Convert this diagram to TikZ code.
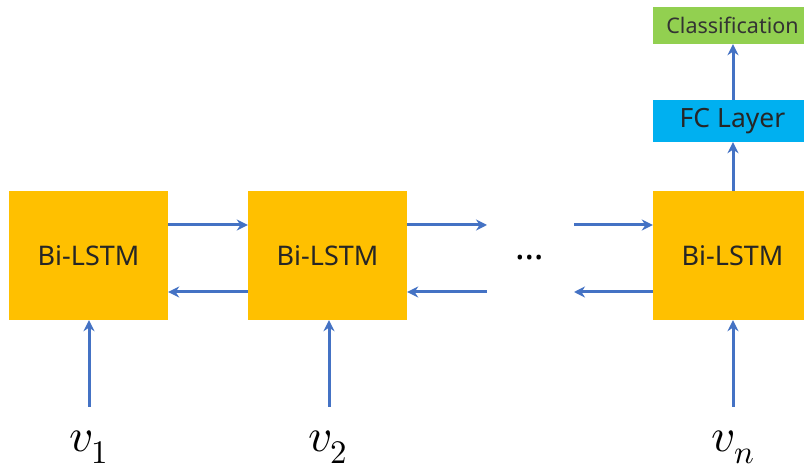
\documentclass[tikz,border=0pt]{standalone}
\usepackage{fontspec}
\setmainfont{Noto Sans}
\usepackage{unicode-math}
\setmathfont{Latin Modern Math}
\usetikzlibrary{arrows.meta}
\definecolor{lstmgold}{HTML}{FFC000}
\definecolor{fcblue}{HTML}{00B0F0}
\definecolor{clsgreen}{HTML}{92D050}
\definecolor{arrowblue}{HTML}{4472C4}
\tikzset{
  cell/.style={fill=lstmgold, draw=none, minimum width=159pt, minimum height=129pt,
    inner sep=0pt, font=\fontsize{27}{32}\selectfont, text=black!85},
  fcbox/.style={fill=fcblue, draw=none, minimum width=159pt, minimum height=42pt,
    inner sep=0pt, font=\fontsize{26.5}{30}\selectfont, text=black!85},
  clsbox/.style={fill=clsgreen, draw=none, minimum width=159pt, minimum height=37pt,
    inner sep=0pt, font=\fontsize{21.5}{26}\selectfont, text=black!80},
  flow/.style={draw=arrowblue, line width=3pt, -{Stealth[length=11pt,width=11pt]}},
  vlabel/.style={font=\fontsize{47}{54}\selectfont, inner sep=0pt}
}
\begin{document}
\begin{tikzpicture}[x=1pt,y=-1pt]
  \clip (0,0) rectangle (804,470);
  \fill[white] (0,0) rectangle (804,470);

  % recurrent cells
  \node[cell] (b1) at (88.5,255.5) {Bi-LSTM};
  \node[cell] (b2) at (327.5,255.5) {Bi-LSTM};
  \node[cell] (b3) at (732.5,255.5) {Bi-LSTM};

  % output head
  \node[fcbox] (fc) at (732.5,121) {FC Layer};
  \node[clsbox] (cls) at (732.5,25.5) {Classification};

  % gap between the second and the last cell
  \node (dots) at (530,258) {\fontsize{36}{36}\selectfont\bfseries\char"2026};

  % free ends of the arrows around the gap
  \coordinate (r2end) at (487,225);
  \coordinate (r3start) at (574,225);
  \coordinate (l2start) at (487,292);
  \coordinate (l3end) at (574,292);

  % forward direction
  \draw[flow] (b1.east |- 0,225) -- (b2.west |- 0,225);
  \draw[flow] (b2.east |- r2end) -- (r2end);
  \draw[flow] (r3start) -- (b3.west |- r3start);

  % backward direction
  \draw[flow] (b2.west |- 0,292) -- (b1.east |- 0,292);
  \draw[flow] (l2start) -- (b2.east |- l2start);
  \draw[flow] (b3.west |- l3end) -- (l3end);

  % inputs
  \coordinate (in1) at (89,407);
  \coordinate (in2) at (329,407);
  \coordinate (in3) at (733,407);
  \draw[flow] (in1) -- (in1 |- b1.south);
  \draw[flow] (in2) -- (in2 |- b2.south);
  \draw[flow] (in3) -- (in3 |- b3.south);

  \node[vlabel] (v1) at (89,447) {$v_1$};
  \node[vlabel] (v2) at (328,447) {$v_2$};
  \node[vlabel] (vn) at (733,447) {$v_n$};

  % head connections
  \draw[flow] (b3.north -| 733,0) -- (fc.south -| 733,0);
  \draw[flow] (fc.north -| 733,0) -- (cls.south -| 733,0);
\end{tikzpicture}
\end{document}
